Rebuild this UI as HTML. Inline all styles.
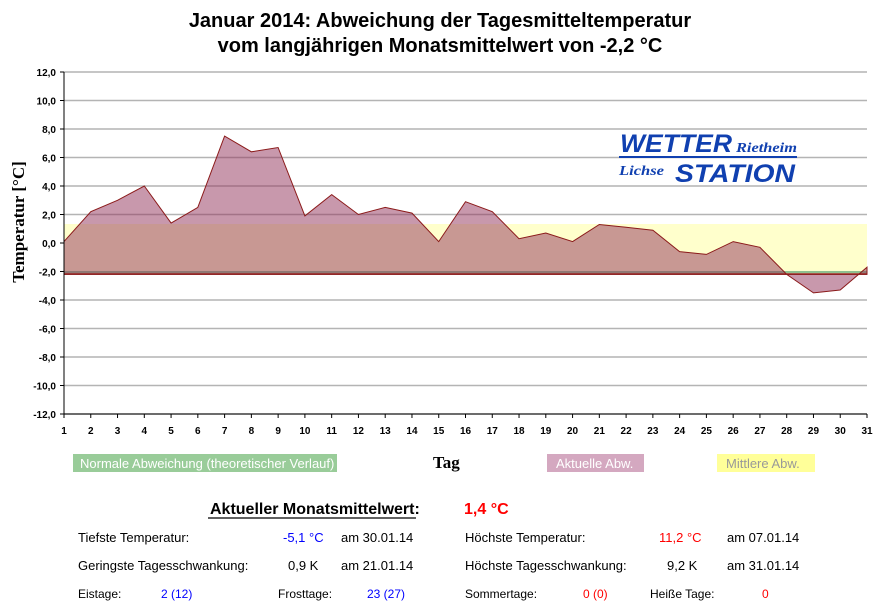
<!DOCTYPE html>
<html><head><meta charset="utf-8"><style>
html,body{margin:0;padding:0;background:#fff;width:881px;height:609px;overflow:hidden}
svg text{font-family:"Liberation Sans",Arial,sans-serif}
</style></head><body>
<svg id="s" width="881" height="609" xmlns="http://www.w3.org/2000/svg">
<text x="440" y="27" text-anchor="middle" font-size="20" font-weight="bold">Januar 2014: Abweichung der Tagesmitteltemperatur</text>
<text x="440" y="52" text-anchor="middle" font-size="20" font-weight="bold">vom langjährigen Monatsmittelwert von -2,2 °C</text>
<g id="grid"></g>
<rect x="64" y="224" width="803" height="50" fill="#ffffcc"/>
<line x1="64" y1="272" x2="867" y2="272" stroke="#8fc08f" stroke-width="2"/>
<polygon id="area" fill="rgb(145,50,90)" fill-opacity="0.5" stroke="#8b1a1a" stroke-width="1"/>
<line x1="64" y1="274" x2="867" y2="274" stroke="#8b1a1a" stroke-width="1.5"/>
<g id="axes"></g>
<text transform="translate(24,222) rotate(-90)" text-anchor="middle" font-size="17" font-weight="bold" style="font-family:'Liberation Serif',serif">Temperatur [°C]</text>
<text x="620" y="152" font-size="25" font-weight="900" font-style="italic" fill="#1040b0" textLength="112" lengthAdjust="spacingAndGlyphs">WETTER</text>
<text x="736" y="152" font-size="14" font-weight="bold" font-style="italic" fill="#1040b0" textLength="61" lengthAdjust="spacingAndGlyphs" style="font-family:'Liberation Serif',serif">Rietheim</text>
<line x1="619" y1="157" x2="797" y2="157" stroke="#1040b0" stroke-width="2"/>
<text x="619" y="175" font-size="14" font-weight="bold" font-style="italic" fill="#1040b0" textLength="45" lengthAdjust="spacingAndGlyphs" style="font-family:'Liberation Serif',serif">Lichse</text>
<text x="675" y="182" font-size="25" font-weight="900" font-style="italic" fill="#1040b0" textLength="120" lengthAdjust="spacingAndGlyphs">STATION</text>
<rect x="73" y="454" width="264" height="18" fill="#99cc99"/>
<text x="80" y="468" font-size="13" fill="#fff">Normale Abweichung (theoretischer Verlauf)</text>
<text x="433" y="468" font-size="17" font-weight="bold" style="font-family:'Liberation Serif',serif">Tag</text>
<rect x="547" y="454" width="97" height="18" fill="#d4a8c0"/>
<text x="556" y="468" font-size="13" fill="#fff">Aktuelle Abw.</text>
<rect x="717" y="454" width="98" height="18" fill="#ffff99"/>
<text x="726" y="468" font-size="13" fill="#999">Mittlere Abw.</text>
<text x="210" y="514" font-size="16" font-weight="bold">Aktueller Monatsmittelwert:</text>
<line x1="208" y1="518" x2="416" y2="518" stroke="#000" stroke-width="1.3"/>
<text x="464" y="514" font-size="16" font-weight="bold" fill="#f00">1,4 °C</text>
<g font-size="13">
<text x="78" y="542">Tiefste Temperatur:</text>
<text x="283" y="542" fill="#00f">-5,1 °C</text>
<text x="341" y="542">am 30.01.14</text>
<text x="465" y="542">Höchste Temperatur:</text>
<text x="659" y="542" fill="#f00">11,2 °C</text>
<text x="727" y="542">am 07.01.14</text>
<text x="78" y="570">Geringste Tagesschwankung:</text>
<text x="288" y="570">0,9 K</text>
<text x="341" y="570">am 21.01.14</text>
<text x="465" y="570">Höchste Tagesschwankung:</text>
<text x="667" y="570">9,2 K</text>
<text x="727" y="570">am 31.01.14</text>
</g>
<g font-size="12">
<text x="78" y="598">Eistage:</text>
<text x="161" y="598" fill="#00f">2 (12)</text>
<text x="278" y="598">Frosttage:</text>
<text x="367" y="598" fill="#00f">23 (27)</text>
<text x="465" y="598">Sommertage:</text>
<text x="583" y="598" fill="#f00">0 (0)</text>
<text x="650" y="598">Heiße Tage:</text>
<text x="762" y="598" fill="#f00">0</text>
</g>
</svg>
<script>
var v=[0.1,2.2,3.0,4.0,1.4,2.5,7.5,6.4,6.7,1.9,3.4,2.0,2.5,2.1,0.1,2.9,2.2,0.3,0.7,0.1,1.3,1.1,0.9,-0.6,-0.8,0.1,-0.3,-2.2,-3.5,-3.3,-1.7];
function X(d){return 64+(d-1)*803/30}
function Y(t){return 243-t*14.25}
var pts=[X(1)+","+Y(-2.2)];
v.forEach(function(t,i){pts.push(X(i+1).toFixed(1)+","+Y(t).toFixed(1))});
pts.push(X(31)+","+Y(-2.2));
document.getElementById("area").setAttribute("points",pts.join(" "));
var g=document.getElementById("grid"),a=document.getElementById("axes"),h="";
for(var t=-12;t<=12;t+=2){var y=Y(t);
 h+='<line x1="64" y1="'+y+'" x2="867" y2="'+y+'" stroke="#b4b4b4" stroke-width="1.5"/>';}
g.innerHTML=h;
h='<line x1="64" y1="72" x2="64" y2="418" stroke="#000"/><line x1="60" y1="414" x2="867" y2="414" stroke="#000"/>';
for(var t=-12;t<=12;t+=2){var y=Y(t);
 h+='<line x1="60" y1="'+y+'" x2="64" y2="'+y+'" stroke="#000"/>';
 h+='<text x="56" y="'+(y+4)+'" text-anchor="end" font-size="10" font-weight="bold">'+t.toFixed(1).replace(".",",")+'</text>';}
for(var d=1;d<=31;d++){var x=X(d);
 h+='<line x1="'+x+'" y1="414" x2="'+x+'" y2="418" stroke="#000"/>';
 h+='<text x="'+x+'" y="434" text-anchor="middle" font-size="10" font-weight="bold">'+d+'</text>';}
a.innerHTML=h;
</script>
</body></html>
